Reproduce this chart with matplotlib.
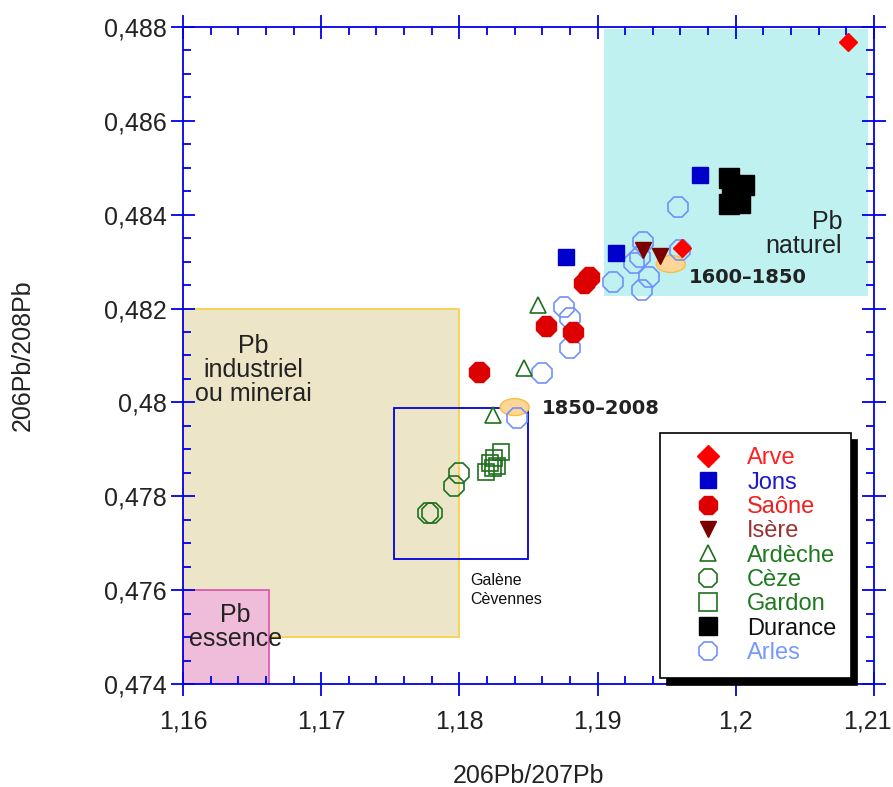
import matplotlib
matplotlib.use('Agg')
import matplotlib.pyplot as plt
from matplotlib.patches import Rectangle, Ellipse
from matplotlib.lines import Line2D
from matplotlib.ticker import MultipleLocator, FuncFormatter

plt.rcParams['font.family'] = ['Liberation Sans', 'DejaVu Sans']

# data
arve_x = [1.2081, 1.1961]
arve_y = [0.48768, 0.48330]

jons_x = [1.1974, 1.1913, 1.1877]
jons_y = [0.48485, 0.48319, 0.48310]

saone_x = [1.1894, 1.1890, 1.1863, 1.1882, 1.1814]
saone_y = [0.48267, 0.48255, 0.48163, 0.48150, 0.48065]

isere_x = [1.1933, 1.1945]
isere_y = [0.48325, 0.48313]

ardeche_x = [1.1857, 1.1847, 1.1824]
ardeche_y = [0.48208, 0.48073, 0.47973]

ceze_x = [1.1800, 1.1796, 1.1777, 1.1780]
ceze_y = [0.47850, 0.47822, 0.47765, 0.47765]

gardon_x = [1.1830, 1.1825, 1.1822, 1.1824, 1.1819, 1.1827]
gardon_y = [0.47895, 0.47882, 0.47871, 0.47860, 0.47852, 0.47865]

durance_x = [1.1995, 1.2006, 1.1997, 1.2003, 1.1995]
durance_y = [0.48478, 0.48463, 0.48438, 0.48425, 0.48423]

arles_x = [1.1958, 1.1933, 1.1926, 1.1931, 1.1937, 1.1911, 1.1932, 1.1960,
           1.1876, 1.1880, 1.1880, 1.1860, 1.1842]
arles_y = [0.48417, 0.48342, 0.48297, 0.48310, 0.48267, 0.48257, 0.48240, 0.48325,
           0.48203, 0.48180, 0.48116, 0.48063, 0.47967]

fig = plt.figure(figsize=(8.93, 7.87), dpi=100)
ax = fig.add_axes([0.2049, 0.1309, 0.7738, 0.8348])
ax.set_xlim(1.16, 1.21)
ax.set_ylim(0.474, 0.488)

# background zones
ax.add_patch(Rectangle((1.1905, 0.48227), 1.2096 - 1.1905, 0.48795 - 0.48227,
                       facecolor='#bff1f1', edgecolor='none', zorder=0))
ax.add_patch(Rectangle((1.16, 0.475), 0.02, 0.007,
                       facecolor='#ede5c8', edgecolor='#f8d040', lw=1.2, zorder=0.5))
ax.add_patch(Rectangle((1.16, 0.474), 0.0062, 0.002,
                       facecolor='#efbcd9', edgecolor='#e050b0', lw=1.2, zorder=0.6))
ax.add_patch(Rectangle((1.1753, 0.47666), 1.1850 - 1.1753, 0.47988 - 0.47666,
                       facecolor='none', edgecolor='#0000dd', lw=1.3, zorder=1))
ax.add_patch(Ellipse((1.1953, 0.48295), 0.0021, 0.00036,
                     facecolor='#fdd598', edgecolor='#f5c040', lw=1, zorder=2.5))
ax.add_patch(Ellipse((1.1840, 0.4799), 0.0021, 0.00036,
                     facecolor='#fdd598', edgecolor='#f5c040', lw=1, zorder=2.5))

ax.text(1.2077, 0.48358, 'Pb\nnaturel', ha='right', va='center', fontsize=18,
        color='#222222', linespacing=1.0, multialignment='right')
ax.text(1.1651, 0.4807, 'Pb\nindustriel\nou minerai', ha='center', va='center',
        fontsize=18, color='#222222', linespacing=1.0)
ax.text(1.1638, 0.47522, 'Pb\nessence', ha='center', va='center', fontsize=18,
        color='#222222', linespacing=1.0)
ax.text(1.1808, 0.4760, 'Galène\nCèvennes', ha='left', va='center', fontsize=11.5,
        color='#111111', linespacing=1.35)
ax.text(1.1966, 0.48267, '1600–1850', fontsize=14, fontweight='bold',
        family='DejaVu Sans', color='#222222', va='center')
ax.text(1.1860, 0.47988, '1850–2008', fontsize=14, fontweight='bold',
        family='DejaVu Sans', color='#222222', va='center')

green = '#1e701e'
ax.plot(durance_x, durance_y, 's', ms=14, color='black', zorder=3)
ax.plot(arles_x, arles_y, '8', ms=15, mfc='none', mec='#7090ff', mew=1.2, zorder=3)
ax.plot(ceze_x, ceze_y, '8', ms=15, mfc='none', mec=green, mew=1.2, zorder=3)
ax.plot(gardon_x, gardon_y, 's', ms=12, mfc='none', mec=green, mew=1.2, zorder=3)
ax.plot(ardeche_x, ardeche_y, '^', ms=12, mfc='none', mec=green, mew=1.2, zorder=3)
ax.plot(saone_x, saone_y, '8', ms=15, color='#dd0000', zorder=3)
ax.plot(isere_x, isere_y, 'v', ms=12, color='#7a0000', zorder=3)
ax.plot(jons_x, jons_y, 's', ms=11, color='#0000cc', zorder=3)
ax.plot(arve_x, arve_y, 'D', ms=9, color='#ff0000', zorder=3)

# axes styling
for s in ax.spines.values():
    s.set_color('#0000ee')
    s.set_linewidth(1.3)
ax.xaxis.set_major_locator(MultipleLocator(0.01))
ax.xaxis.set_minor_locator(MultipleLocator(0.002))
ax.yaxis.set_major_locator(MultipleLocator(0.002))
ax.yaxis.set_minor_locator(MultipleLocator(0.0005))


def comma(v, p):
    return ('%g' % round(v, 4)).replace('.', ',')


def comma_x(v, p):
    # the last label is drawn separately, nudged inside the figure
    if round(v, 3) >= 1.21:
        return ''
    return comma(v, p)


ax.xaxis.set_major_formatter(FuncFormatter(comma_x))
ax.yaxis.set_major_formatter(FuncFormatter(comma))
ax.tick_params(which='major', direction='inout', length=17, width=1.3,
               color='#0000ee', top=True, right=True, labelsize=18,
               labelcolor='#222222')
ax.tick_params(which='minor', direction='in', length=6, width=1.3,
               color='#0000ee', top=True, right=True)
ax.tick_params(axis='x', which='major', pad=10)
ax.tick_params(axis='y', which='major', pad=3)
ax.annotate('1,21', xy=(1.21, 0), xycoords=('data', 'axes fraction'),
            xytext=(-5, -18.5), textcoords='offset points', ha='center', va='top',
            fontsize=18, color='#222222', annotation_clip=False)

ax.set_xlabel('206Pb/207Pb', fontsize=18, color='#222222', labelpad=22)
ax.set_ylabel('206Pb/208Pb', fontsize=18, color='#222222', labelpad=50)

handles = [
    Line2D([], [], ls='none', marker='D', ms=11, color='#ff0000'),
    Line2D([], [], ls='none', marker='s', ms=11, color='#0000cc'),
    Line2D([], [], ls='none', marker='8', ms=14, color='#dd0000'),
    Line2D([], [], ls='none', marker='v', ms=12, color='#7a0000'),
    Line2D([], [], ls='none', marker='^', ms=12, mfc='none', mec=green, mew=1.2),
    Line2D([], [], ls='none', marker='8', ms=14, mfc='none', mec=green, mew=1.2),
    Line2D([], [], ls='none', marker='s', ms=13, mfc='none', mec=green, mew=1.2),
    Line2D([], [], ls='none', marker='s', ms=13, color='black'),
    Line2D([], [], ls='none', marker='8', ms=14, mfc='none', mec='#7090ff', mew=1.2),
]
labels = ['Arve', 'Jons', 'Saône', 'Isère', 'Ardèche', 'Cèze', 'Gardon', 'Durance', 'Arles']
label_colors = ['#ff2020', '#1a1acc', '#ee2020', '#993333', '#1e7a1e', '#1e7a1e',
                '#1e7a1e', '#111111', '#7799ff']
leg = ax.legend(handles, labels, loc='upper left', bbox_to_anchor=(0.690, 0.382),
                borderaxespad=0, fontsize=17, labelspacing=0.1, handletextpad=0.2,
                borderpad=0.6, handlelength=2.9, fancybox=False, framealpha=1,
                edgecolor='black', labelcolor=label_colors,
                shadow={'ox': 5, 'oy': -5, 'facecolor': 'black', 'edgecolor': 'black',
                        'alpha': 1})
leg.get_frame().set_linewidth(1.2)
leg.set_zorder(5)

plt.savefig('out.png', dpi=100)
